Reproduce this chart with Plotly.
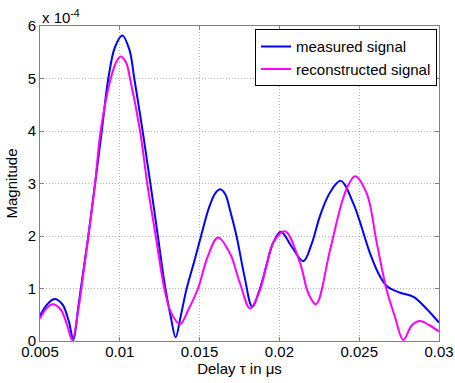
import plotly.graph_objects as go

# Delay axis (microseconds) and magnitudes (in units of 1e-4)
x_measured = [0.005, 0.0054, 0.0059, 0.0064, 0.0068, 0.00709, 0.0074, 0.0077, 0.00803, 0.00845,
              0.00887, 0.00928, 0.0097, 0.01016, 0.0106, 0.01091, 0.01147, 0.01194, 0.01237,
              0.01283, 0.0132, 0.0135, 0.0138, 0.01419, 0.01465, 0.01509, 0.0156, 0.0160, 0.0163,
              0.0166, 0.0169, 0.01732, 0.0178, 0.0183, 0.01878, 0.0192, 0.01962, 0.0201, 0.02076,
              0.0215, 0.02202, 0.02254, 0.02317, 0.02384, 0.02463, 0.02568, 0.0262, 0.02672, 0.02756,
              0.0284, 0.0292, 0.030]
y_measured = [0.48, 0.68, 0.80, 0.70, 0.38, 0.02, 0.65, 1.3, 2.0, 3.0,
              4.0, 5.0, 5.6, 5.82, 5.55, 5.0, 3.92, 2.95, 2.03,
              1.05, 0.45, 0.07, 0.45, 1.0, 1.5, 2.0, 2.55, 2.82, 2.89,
              2.8, 2.5, 1.99, 1.25, 0.65, 1.0, 1.45, 1.88, 2.08, 1.8,
              1.52, 1.85, 2.38, 2.83, 3.05, 2.62, 1.67, 1.29, 1.05, 0.92,
              0.84, 0.62, 0.35]

x_reconstructed = [0.005, 0.0054, 0.0058, 0.0063, 0.0067, 0.00702, 0.0074, 0.0077, 0.00803, 0.00845,
                   0.0088, 0.00943, 0.0098, 0.01006, 0.0104, 0.01064, 0.01127, 0.01172, 0.01225,
                   0.01279, 0.0132, 0.01377, 0.0143, 0.0149, 0.0155, 0.01615, 0.0169, 0.01753, 0.01816,
                   0.01878, 0.0192, 0.01962, 0.02035, 0.0213, 0.02181, 0.02229, 0.02317, 0.0239, 0.02432,
                   0.02474, 0.02547, 0.0261, 0.02672, 0.02724, 0.02776, 0.0283, 0.0288, 0.0294, 0.030]
y_reconstructed = [0.43, 0.62, 0.70, 0.60, 0.30, 0.02, 0.6, 1.25, 2.0, 3.0,
                   4.0, 5.0, 5.33, 5.42, 5.3, 5.0, 4.0, 3.0, 2.0,
                   1.0, 0.55, 0.32, 0.6, 1.0, 1.6, 1.97, 1.67, 1.10, 0.62,
                   0.97, 1.45, 1.88, 2.09, 1.48, 0.91, 0.70, 1.73, 2.63, 2.97,
                   3.14, 2.81, 1.87, 0.97, 0.46, 0.02, 0.3, 0.38, 0.3, 0.18]

x_ticks = [0.005, 0.01, 0.015, 0.02, 0.025, 0.03]
x_tick_labels = ["0.005", "0.01", "0.015", "0.02", "0.025", "0.03"]
y_ticks = [0, 1, 2, 3, 4, 5, 6]
y_tick_labels = ["0", "1", "2", "3", "4", "5", "6"]

font_family = "Liberation Sans, Arial, sans-serif"

fig = go.Figure()
fig.add_trace(go.Scatter(x=x_measured, y=y_measured, mode="lines", name="measured signal",
                         line=dict(color="#0000ff", width=2, shape="spline", smoothing=1.0)))
fig.add_trace(go.Scatter(x=x_reconstructed, y=y_reconstructed, mode="lines", name="reconstructed signal",
                         line=dict(color="#ff00ff", width=2, shape="spline", smoothing=1.0)))

axis_common = dict(showline=True, linecolor="#808080", linewidth=1, mirror="ticks",
                   ticks="inside", ticklen=4, tickcolor="#808080",
                   showgrid=True, gridcolor="#b4b4b4", griddash="1px,2px", gridwidth=1,
                   zeroline=False, automargin=False,
                   tickfont=dict(size=15, color="black", family=font_family))

fig.update_xaxes(range=[0.005, 0.03], tickvals=x_ticks, ticktext=x_tick_labels,
                 ticklabelstandoff=-3,
                 title=dict(text="Delay τ in μs", font=dict(size=15, color="black", family=font_family), standoff=0),
                 **axis_common)
fig.update_yaxes(range=[0, 6], tickvals=y_ticks, ticktext=y_tick_labels,
                 title=dict(text="Magnitude", font=dict(size=15, color="black", family=font_family), standoff=6),
                 **axis_common)

fig.add_annotation(text="x 10<sup>-4</sup>", xref="paper", yref="paper", x=0, y=1,
                   xanchor="left", yanchor="bottom", showarrow=False,
                   font=dict(size=15, color="black", family=font_family), yshift=-2)

fig.update_layout(
    width=455, height=383,
    margin=dict(l=40, r=16, t=26, b=42),
    paper_bgcolor="white", plot_bgcolor="white",
    font=dict(family=font_family, color="black"),
    showlegend=True,
    legend=dict(x=0.995, y=0.99, xanchor="right", yanchor="top",
                bgcolor="white", bordercolor="black", borderwidth=1,
                font=dict(size=15, color="black", family=font_family),
                tracegroupgap=0, itemwidth=30),
)

fig.write_html("out.html")
